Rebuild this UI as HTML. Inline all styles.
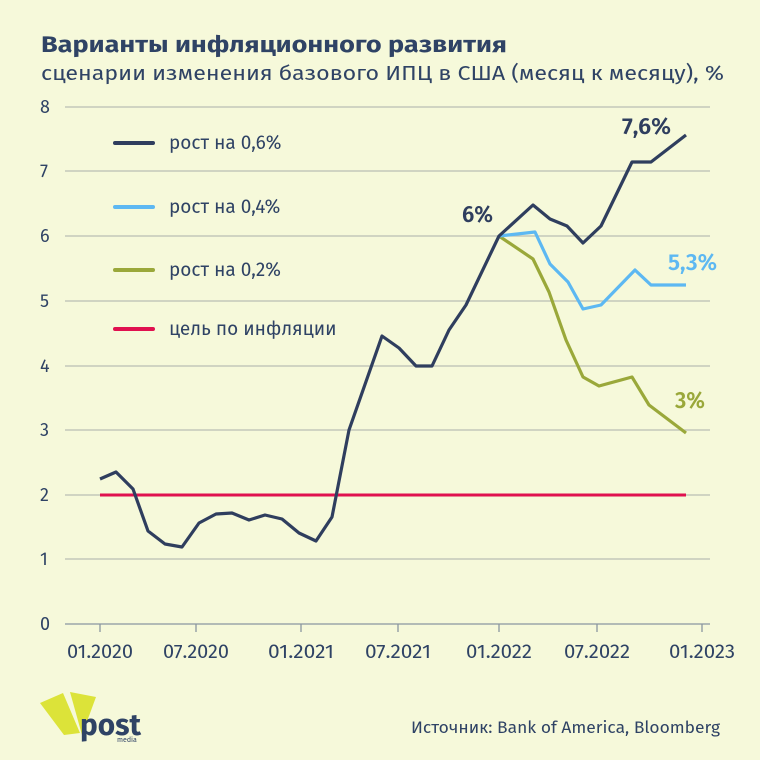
<!DOCTYPE html>
<html><head><meta charset="utf-8"><style>
html,body{margin:0;padding:0;background:#f6f9da;}
svg{display:block;font-family:"Fira Sans","Liberation Sans","DejaVu Sans",sans-serif;}
</style></head><body>
<svg width="760" height="760" viewBox="0 0 760 760" xmlns="http://www.w3.org/2000/svg">
<rect width="760" height="760" fill="#f6f9da"/>
<text x="41" y="52" font-size="23" font-weight="bold" fill="#2f4365" textLength="466" lengthAdjust="spacingAndGlyphs">Варианты инфляционного развития</text>
<text x="41" y="80" font-size="20" fill="#2f4365" textLength="683" lengthAdjust="spacingAndGlyphs">сценарии изменения базового ИПЦ в США (месяц к месяцу), %</text>
<g stroke="#b9bfb5" stroke-width="1.3">
<line x1="65" y1="107" x2="710" y2="107"/><line x1="65" y1="171" x2="710" y2="171"/>
<line x1="65" y1="236" x2="710" y2="236"/><line x1="65" y1="301" x2="710" y2="301"/>
<line x1="65" y1="366" x2="710" y2="366"/><line x1="65" y1="430" x2="710" y2="430"/>
<line x1="65" y1="495" x2="710" y2="495"/><line x1="65" y1="559" x2="710" y2="559"/>
</g>
<line x1="65" y1="624" x2="710" y2="624" stroke="#8a96a0" stroke-width="1.3"/>
<g stroke="#8a96a0" stroke-width="1.3">
<line x1="100" y1="624" x2="100" y2="632"/><line x1="196" y1="624" x2="196" y2="632"/>
<line x1="301" y1="624" x2="301" y2="632"/><line x1="398" y1="624" x2="398" y2="632"/>
<line x1="499" y1="624" x2="499" y2="632"/><line x1="597" y1="624" x2="597" y2="632"/>
<line x1="702" y1="624" x2="702" y2="632"/>
</g>
<g font-size="18" fill="#2f4365">
<text x="40" y="113">8</text><text x="40" y="177">7</text><text x="40" y="242">6</text>
<text x="40" y="307">5</text><text x="40" y="372">4</text><text x="40" y="436">3</text>
<text x="40" y="501">2</text><text x="40" y="565">1</text><text x="40" y="630">0</text>
</g>
<g font-size="19" fill="#2f4365" text-anchor="middle">
<text x="100" y="658" textLength="66" lengthAdjust="spacingAndGlyphs">01.2020</text><text x="196" y="658" textLength="66" lengthAdjust="spacingAndGlyphs">07.2020</text><text x="301" y="658" textLength="66" lengthAdjust="spacingAndGlyphs">01.2021</text>
<text x="398" y="658" textLength="66" lengthAdjust="spacingAndGlyphs">07.2021</text><text x="499" y="658" textLength="66" lengthAdjust="spacingAndGlyphs">01.2022</text><text x="597" y="658" textLength="66" lengthAdjust="spacingAndGlyphs">07.2022</text>
<text x="702" y="658" textLength="66" lengthAdjust="spacingAndGlyphs">01.2023</text>
</g>
<g stroke-width="4" stroke-linecap="round">
<line x1="115" y1="143" x2="153" y2="143" stroke="#2f3e5e"/>
<line x1="115" y1="207" x2="153" y2="207" stroke="#5db8f2"/>
<line x1="115" y1="270" x2="153" y2="270" stroke="#9aa83a"/>
<line x1="115" y1="329" x2="153" y2="329" stroke="#e0114f"/>
</g>
<g font-size="19" fill="#2f4365">
<text x="169" y="149">рост на 0,6%</text><text x="169" y="213">рост на 0,4%</text>
<text x="169" y="276">рост на 0,2%</text><text x="169" y="335">цель по инфляции</text>
</g>
<line x1="100" y1="495" x2="686" y2="495" stroke="#e0114f" stroke-width="3"/>
<g fill="none" stroke-width="3.2" stroke-linejoin="round">
<polyline stroke="#9aa83a" points="499,236 533,259 549,292 566,340 583,377 599,386 632,377 649,405 686,433"/>
<polyline stroke="#5db8f2" points="499,236 535,232 550,264 568,282 583,309 601,305 635,270 651,285 686,285"/>
<polyline stroke="#2f3e5e" points="100,479 116,472 133,489 148,531 165,544 182,547 199,523 216,514 232,513 249,520 265,515 282,519 299,533 316,541 332,517 349,430 382,336 399,348 416,366 432,366 449,330 466,305 499,236 533,205 550,219 567,226 583,243 601,226 632,162 651,162 686,135"/>
</g>
<g font-size="23" font-weight="600">
<text x="622" y="134" fill="#2f3e5e" textLength="49" lengthAdjust="spacingAndGlyphs">7,6%</text>
<text x="462" y="222" fill="#2f3e5e" textLength="31" lengthAdjust="spacingAndGlyphs">6%</text>
<text x="668" y="270" fill="#5db8f2" textLength="49" lengthAdjust="spacingAndGlyphs">5,3%</text>
<text x="675" y="408" fill="#9aa83a" textLength="30" lengthAdjust="spacingAndGlyphs">3%</text>
</g>
<polygon points="40,703 63,693 80,733 64,735" fill="#dce339"/>
<polygon points="70,692 96,697 82,735" fill="#dce339"/>
<text x="80" y="735" font-size="30" font-weight="bold" fill="#2f4365" textLength="61" lengthAdjust="spacingAndGlyphs">post</text>
<text x="117" y="742" font-size="7" fill="#2f4365">media</text>
<text x="720" y="733" font-size="17" fill="#2f4365" text-anchor="end" textLength="309" lengthAdjust="spacingAndGlyphs">Источник: Bank of America, Bloomberg</text>
</svg>
</body></html>
